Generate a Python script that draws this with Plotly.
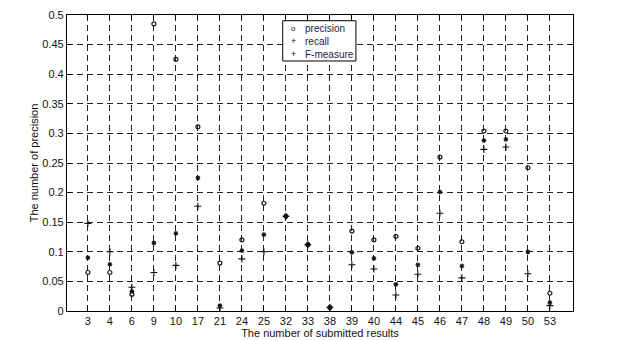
import plotly.graph_objects as go

categories = ["3", "4", "6", "9", "10", "17", "21", "24", "25", "32", "33",
              "38", "39", "40", "44", "45", "46", "47", "48", "49", "50", "53"]
precision = [0.065, 0.065, 0.028, 0.485, 0.425, 0.311, 0.081, 0.120, 0.182, 0.160, 0.112,
             0.006, 0.135, 0.120, 0.126, 0.106, 0.260, 0.117, 0.304, 0.304, 0.242, 0.030]
recall = [0.148, 0.100, 0.040, 0.065, 0.077, 0.177, 0.005, 0.088, 0.100, 0.160, 0.112,
          0.006, 0.078, 0.071, 0.027, 0.062, 0.165, 0.056, 0.273, 0.277, 0.063, 0.009]
fmeasure = [0.090, 0.079, 0.033, 0.115, 0.131, 0.225, 0.009, 0.102, 0.129, 0.160, 0.112,
            0.006, 0.099, 0.089, 0.045, 0.078, 0.201, 0.076, 0.288, 0.290, 0.100, 0.014]
yticks = [0, 0.05, 0.1, 0.15, 0.2, 0.25, 0.3, 0.35, 0.4, 0.45, 0.5]
ytick_labels = ["0", "0.05", "0.1", "0.15", "0.2", "0.25", "0.3", "0.35", "0.4", "0.45", "0.5"]
series_names = ["precision", "recall", "F-measure"]
legend_symbols = ["o", "+", "+"]

ink = "#111111"
FONT = "Liberation Sans, Arial"
fig = go.Figure()
fig.add_trace(go.Scatter(x=categories, y=precision, mode="markers", name=series_names[0],
                         marker=dict(symbol="circle-open", size=4, color=ink,
                                     line=dict(width=1.2, color=ink))))
fig.add_trace(go.Scatter(x=categories, y=recall, mode="markers", name=series_names[1],
                         marker=dict(symbol="cross-thin-open", size=5, color=ink,
                                     line=dict(width=1.1, color=ink))))
fig.add_trace(go.Scatter(x=categories, y=fmeasure, mode="markers", name=series_names[2],
                         marker=dict(symbol="asterisk-open", size=4, color=ink,
                                     line=dict(width=1.1, color=ink))))

axis_common = dict(showline=True, linecolor="black", linewidth=1.2, mirror="ticks",
                   ticks="inside", ticklen=4, tickcolor="black", automargin=True,
                   showgrid=True, gridcolor="#222222", gridwidth=1, griddash="6px,4px",
                   zeroline=False, tickfont=dict(family=FONT, size=11, color=ink))

fig.update_xaxes(type="category", categoryorder="array", categoryarray=categories,
                 range=[-0.95, 22.05],
                 title=dict(text="The number of submitted results", standoff=0,
                            font=dict(family=FONT, size=11, color=ink)),
                 **axis_common)
fig.update_yaxes(range=[0, 0.5], tickvals=yticks, ticktext=ytick_labels,
                 title=dict(text="The number of precision", standoff=1,
                            font=dict(family=FONT, size=11, color=ink)),
                 **axis_common)

# custom compact legend box
x0, x1 = 0.4263, 0.571
y0, y1 = 0.8446, 0.9807
fig.add_shape(type="rect", xref="paper", yref="paper", x0=x0, x1=x1, y0=y0, y1=y1,
              line=dict(color="black", width=1), fillcolor="white", layer="above")
item_y = [0.955, 0.911, 0.868]
for name, sym, yy in zip(series_names, legend_symbols, item_y):
    fig.add_annotation(xref="paper", yref="paper", x=0.4467, y=yy, text=sym,
                       showarrow=False, xanchor="center", yanchor="middle",
                       font=dict(family=FONT, size=8 if sym == "o" else 9, color=ink))
    fig.add_annotation(xref="paper", yref="paper", x=0.466, y=yy, text=name,
                       showarrow=False, xanchor="left", yanchor="middle",
                       font=dict(family=FONT, size=10, color="#1a1a50"))

fig.update_layout(
    width=620, height=341,
    margin=dict(l=67, r=47, t=15, b=30, autoexpand=False),
    paper_bgcolor="white", plot_bgcolor="white",
    showlegend=False,
    font=dict(family=FONT, size=11, color=ink),
)

fig.write_html("out.html", config={"displayModeBar": False},
               post_script="document.body.style.margin='0px';document.body.style.overflow='hidden';")
